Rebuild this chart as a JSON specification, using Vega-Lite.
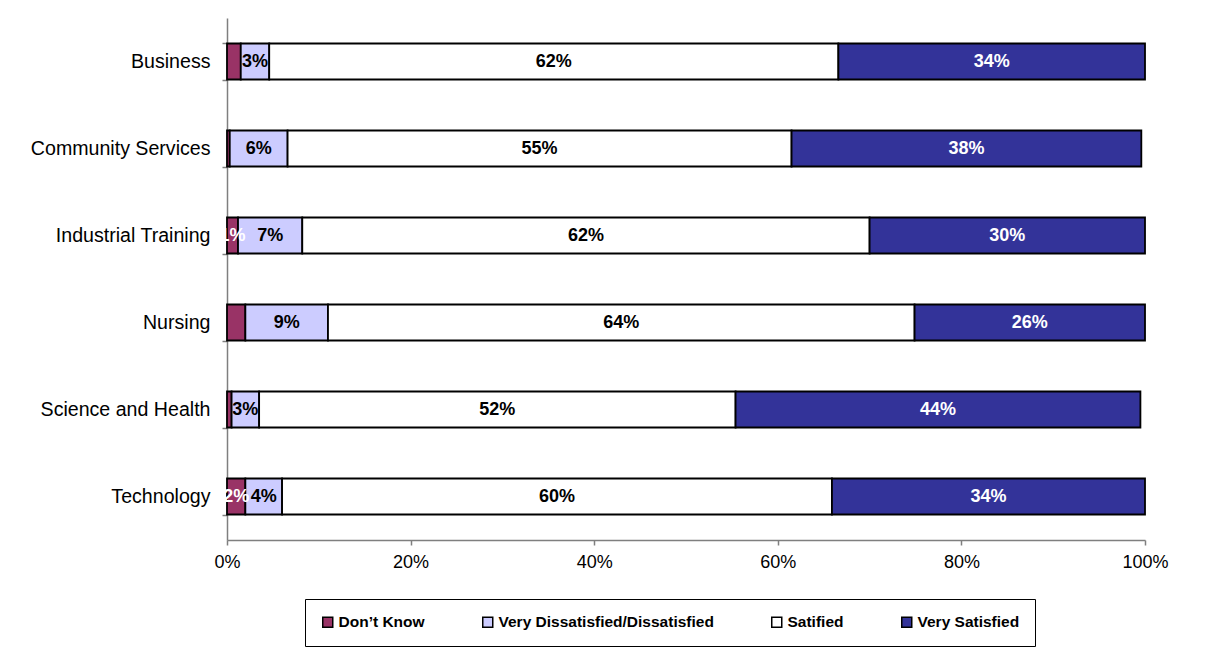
{
  "$schema": "https://vega.github.io/schema/vega-lite/v6.json",
  "width": 918,
  "height": 522,
  "autosize": "none",
  "padding": {"left": 227, "top": 18, "right": 62, "bottom": 113},
  "background": "white",
  "config": {"view": {"stroke": null}, "font": "Liberation Sans"},
  "data": {
    "values": [
      {"category": "Business", "response": "Don’t Know", "k": 1, "value": 1.5, "label": ""},
      {"category": "Business", "response": "Very Dissatisfied/Dissatisfied", "k": 2, "value": 3.1, "label": "3%"},
      {"category": "Business", "response": "Satified", "k": 3, "value": 62.0, "label": "62%"},
      {"category": "Business", "response": "Very Satisfied", "k": 4, "value": 33.4, "label": "34%"},
      {"category": "Community Services", "response": "Don’t Know", "k": 1, "value": 0.3, "label": ""},
      {"category": "Community Services", "response": "Very Dissatisfied/Dissatisfied", "k": 2, "value": 6.3, "label": "6%"},
      {"category": "Community Services", "response": "Satified", "k": 3, "value": 54.9, "label": "55%"},
      {"category": "Community Services", "response": "Very Satisfied", "k": 4, "value": 38.1, "label": "38%"},
      {"category": "Industrial Training", "response": "Don’t Know", "k": 1, "value": 1.2, "label": "1%"},
      {"category": "Industrial Training", "response": "Very Dissatisfied/Dissatisfied", "k": 2, "value": 7.0, "label": "7%"},
      {"category": "Industrial Training", "response": "Satified", "k": 3, "value": 61.8, "label": "62%"},
      {"category": "Industrial Training", "response": "Very Satisfied", "k": 4, "value": 30.0, "label": "30%"},
      {"category": "Nursing", "response": "Don’t Know", "k": 1, "value": 2.0, "label": ""},
      {"category": "Nursing", "response": "Very Dissatisfied/Dissatisfied", "k": 2, "value": 9.0, "label": "9%"},
      {"category": "Nursing", "response": "Satified", "k": 3, "value": 63.9, "label": "64%"},
      {"category": "Nursing", "response": "Very Satisfied", "k": 4, "value": 25.1, "label": "26%"},
      {"category": "Science and Health", "response": "Don’t Know", "k": 1, "value": 0.5, "label": ""},
      {"category": "Science and Health", "response": "Very Dissatisfied/Dissatisfied", "k": 2, "value": 3.0, "label": "3%"},
      {"category": "Science and Health", "response": "Satified", "k": 3, "value": 51.9, "label": "52%"},
      {"category": "Science and Health", "response": "Very Satisfied", "k": 4, "value": 44.1, "label": "44%"},
      {"category": "Technology", "response": "Don’t Know", "k": 1, "value": 2.0, "label": "2%"},
      {"category": "Technology", "response": "Very Dissatisfied/Dissatisfied", "k": 2, "value": 4.0, "label": "4%"},
      {"category": "Technology", "response": "Satified", "k": 3, "value": 59.9, "label": "60%"},
      {"category": "Technology", "response": "Very Satisfied", "k": 4, "value": 34.1, "label": "34%"}
    ]
  },
  "transform": [
    {"stack": "value", "groupby": ["category"], "sort": [{"field": "k", "order": "ascending"}], "as": ["v0", "v1"]},
    {"calculate": "(datum.v0 + datum.v1) / 2", "as": "mid"}
  ],
  "encoding": {
    "y": {
      "field": "category",
      "type": "nominal",
      "sort": ["Business", "Community Services", "Industrial Training", "Nursing", "Science and Health", "Technology"],
      "scale": {"paddingInner": 0.586, "paddingOuter": 0.293},
      "axis": {
        "title": null,
        "domainColor": "#7f7f7f",
        "domainWidth": 1.5,
        "tickColor": "#7f7f7f",
        "tickWidth": 1.5,
        "tickSize": 5,
        "tickBand": "extent",
        "labelFontSize": 19.6,
        "labelColor": "black",
        "labelPadding": 12,
        "labelLimit": 300,
        "grid": false
      }
    }
  },
  "layer": [
    {
      "mark": {"type": "bar", "stroke": "black", "strokeWidth": 1.8},
      "encoding": {
        "x": {
          "field": "v0",
          "type": "quantitative",
          "scale": {"domain": [0, 100], "nice": false, "zero": true},
          "axis": {
            "title": null,
            "values": [0, 20, 40, 60, 80, 100],
            "labelExpr": "datum.value + '%'",
            "labelFlush": false,
            "domainColor": "#7f7f7f",
            "domainWidth": 1.5,
            "tickColor": "#7f7f7f",
            "tickWidth": 1.5,
            "tickSize": 5,
            "labelFontSize": 18,
            "labelColor": "black",
            "labelPadding": 8,
            "grid": false
          }
        },
        "x2": {"field": "v1"},
        "color": {
          "field": "response",
          "type": "nominal",
          "scale": {
            "domain": ["Don’t Know", "Very Dissatisfied/Dissatisfied", "Satified", "Very Satisfied"],
            "range": ["#993366", "#ccccff", "#ffffff", "#333399"]
          },
          "legend": {
            "title": null,
            "orient": "none",
            "legendX": 78,
            "legendY": 581,
            "direction": "horizontal",
            "columns": 4,
            "symbolType": "square",
            "symbolSize": 100,
            "symbolStrokeColor": "black",
            "symbolStrokeWidth": 1.5,
            "symbolOpacity": 1,
            "labelFontSize": 15.5,
            "labelFontWeight": "bold",
            "labelColor": "black",
            "labelOffset": 3,
            "labelLimit": 400,
            "columnPadding": 54,
            "padding": 15,
            "strokeColor": "black",
            "fillColor": "white"
          }
        }
      }
    },
    {
      "mark": {"type": "text", "fontWeight": "bold", "fontSize": 18, "baseline": "middle", "align": "center"},
      "encoding": {
        "x": {"field": "mid", "type": "quantitative"},
        "text": {"field": "label"},
        "color": {
          "condition": {"test": "datum.k == 1 || datum.k == 4", "value": "white"},
          "value": "black"
        }
      }
    }
  ]
}
